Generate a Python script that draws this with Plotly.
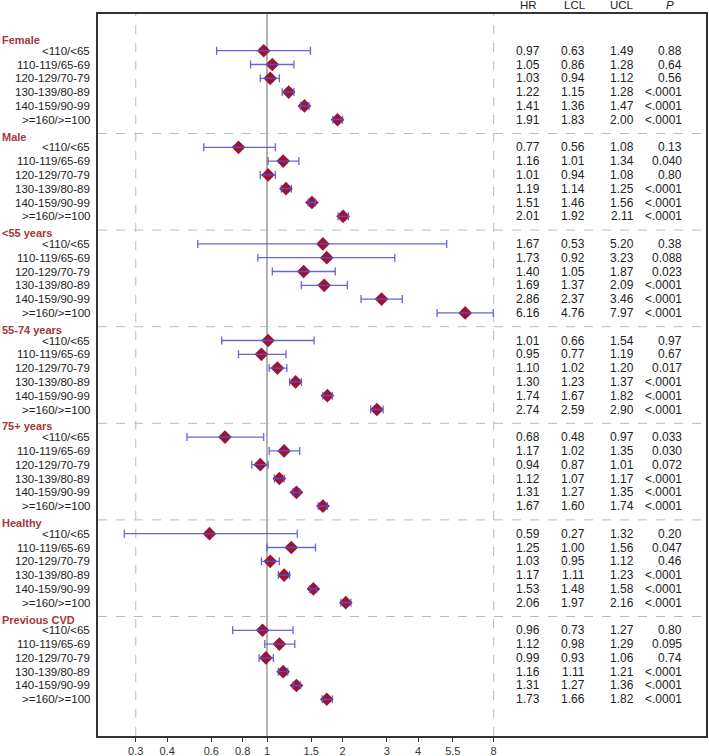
import math
import plotly.graph_objects as go

# ---------------- data ----------------
groups = ["Female", "Male", "&lt;55 years", "55-74 years", "75+ years", "Healthy", "Previous CVD"]
categories = ["&lt;110/&lt;65", "110-119/65-69", "120-129/70-79",
              "130-139/80-89", "140-159/90-99", "&gt;=160/&gt;=100"]

hr = [0.97, 1.05, 1.03, 1.22, 1.41, 1.91,
      0.77, 1.16, 1.01, 1.19, 1.51, 2.01,
      1.67, 1.73, 1.40, 1.69, 2.86, 6.16,
      1.01, 0.95, 1.10, 1.30, 1.74, 2.74,
      0.68, 1.17, 0.94, 1.12, 1.31, 1.67,
      0.59, 1.25, 1.03, 1.17, 1.53, 2.06,
      0.96, 1.12, 0.99, 1.16, 1.31, 1.73]
lcl = [0.63, 0.86, 0.94, 1.15, 1.36, 1.83,
       0.56, 1.01, 0.94, 1.14, 1.46, 1.92,
       0.53, 0.92, 1.05, 1.37, 2.37, 4.76,
       0.66, 0.77, 1.02, 1.23, 1.67, 2.59,
       0.48, 1.02, 0.87, 1.07, 1.27, 1.60,
       0.27, 1.00, 0.95, 1.11, 1.48, 1.97,
       0.73, 0.98, 0.93, 1.11, 1.27, 1.66]
ucl = [1.49, 1.28, 1.12, 1.28, 1.47, 2.00,
       1.08, 1.34, 1.08, 1.25, 1.56, 2.11,
       5.20, 3.23, 1.87, 2.09, 3.46, 7.97,
       1.54, 1.19, 1.20, 1.37, 1.82, 2.90,
       0.97, 1.35, 1.01, 1.17, 1.35, 1.74,
       1.32, 1.56, 1.12, 1.23, 1.58, 2.16,
       1.27, 1.29, 1.06, 1.21, 1.36, 1.82]
pval = ["0.88", "0.64", "0.56", "<.0001", "<.0001", "<.0001",
        "0.13", "0.040", "0.80", "<.0001", "<.0001", "<.0001",
        "0.38", "0.088", "0.023", "<.0001", "<.0001", "<.0001",
        "0.97", "0.67", "0.017", "<.0001", "<.0001", "<.0001",
        "0.033", "0.030", "0.072", "<.0001", "<.0001", "<.0001",
        "0.20", "0.047", "0.46", "<.0001", "<.0001", "<.0001",
        "0.80", "0.095", "0.74", "<.0001", "<.0001", "<.0001"]

tick_vals = [0.3, 0.4, 0.6, 0.8, 1, 1.5, 2, 3, 4, 5.5, 8]
tick_text = ["0.3", "0.4", "0.6", "0.8", "1", "1.5", "2", "3", "4", "5.5", "8"]
col_headers = ["HR", "LCL", "UCL", "<i>P</i>"]
ref_lines_dashed = [0.3, 8]
ref_line_null = 1

# ---------------- layout constants ----------------
W, H = 709, 756
ML, MR, MT, MB = 98, 3, 14, 20
PW = W - ML - MR
FONT = "Arial, 'Liberation Sans', Helvetica, sans-serif"
n_per = len(categories)
step = n_per + 1

ys, row_labels = [], []
for g in range(len(groups)):
    for i in range(n_per):
        ys.append(g * step + 1 + i)
        row_labels.append(categories[i])

def px2paper(px):
    return (px - ML) / PW

fig = go.Figure()

# diamonds
fig.add_trace(go.Scatter(
    x=hr, y=ys, mode="markers",
    marker=dict(symbol="diamond", size=10.5, color="#9b1438", line=dict(width=0)),
    hoverinfo="skip", showlegend=False))

# CI bars on top
fig.add_trace(go.Scatter(
    x=hr, y=ys, mode="markers",
    marker=dict(size=1, color="rgba(0,0,0,0)"),
    error_x=dict(type="data", symmetric=False,
                 array=[u - h for u, h in zip(ucl, hr)],
                 arrayminus=[h - l for h, l in zip(hr, lcl)],
                 color="rgba(85,85,210,0.9)", thickness=1.3, width=4),
    hoverinfo="skip", showlegend=False))

shapes = []
for v in ref_lines_dashed:
    shapes.append(dict(type="line", xref="x", yref="paper",
                       x0=v, x1=v, y0=0, y1=1,
                       line=dict(color="#bbbbbb", width=1, dash="dash"), layer="below"))
shapes.append(dict(type="line", xref="x", yref="paper", x0=ref_line_null, x1=ref_line_null,
                   y0=0, y1=1, line=dict(color="#999999", width=1.5), layer="below"))
for g in range(1, len(groups)):
    shapes.append(dict(type="line", xref="paper", yref="y", x0=0, x1=1,
                       y0=g * step, y1=g * step,
                       line=dict(color="#bbbbbb", width=1, dash="dash"), layer="below"))

annotations = []
for g, name in enumerate(groups):
    annotations.append(dict(text="<b>" + name + "</b>", xref="paper", yref="y",
                            x=px2paper(0), y=g * step + 0.22, xanchor="left", yanchor="middle",
                            showarrow=False, font=dict(family=FONT, size=11, color="#a3383a")))
col_right = [542, 587, 636, 684]
for k, (y, lab) in enumerate(zip(ys, row_labels)):
    annotations.append(dict(text=lab, xref="paper", yref="y", x=px2paper(92), y=y,
                            xanchor="right", yanchor="middle", showarrow=False,
                            font=dict(family=FONT, size=11.5, color="#222222")))
    vals = [f"{hr[k]:.2f}", f"{lcl[k]:.2f}", f"{ucl[k]:.2f}", pval[k].replace("<", "&lt;")]
    for c, v in enumerate(vals):
        annotations.append(dict(text=v, xref="paper", yref="y", x=px2paper(col_right[c]), y=y,
                                xanchor="right", yanchor="middle", showarrow=False,
                                font=dict(family=FONT, size=12, color="#222222")))
col_center = [528, 575, 622, 670]
for c, t in enumerate(col_headers):
    annotations.append(dict(text=t, xref="paper", yref="paper", x=px2paper(col_center[c]),
                            y=(H - MB - 5.5) / (H - MT - MB), xanchor="center", yanchor="middle",
                            showarrow=False, font=dict(family=FONT, size=11.5, color="#222222")))

n_rows = len(groups) * step
fig.update_layout(
    width=W, height=H, autosize=False,
    margin=dict(l=ML, r=MR, t=MT, b=MB),
    paper_bgcolor="white", plot_bgcolor="white",
    shapes=shapes, annotations=annotations,
    xaxis=dict(type="log", range=[-0.6733, 1.749], tickvals=tick_vals, ticktext=tick_text,
               ticks="outside", ticklen=4, tickcolor="#333333", tickwidth=1,
               automargin=False,
               showline=True, linecolor="#333333", linewidth=1.5, mirror=True,
               showgrid=False, zeroline=False,
               tickfont=dict(family=FONT, size=11, color="#333333")),
    yaxis=dict(range=[n_rows + 1.66, -1.66], showline=True, linecolor="#333333",
               linewidth=1.5, mirror=True, showticklabels=False, ticks="",
               showgrid=False, zeroline=False, automargin=False),
)

fig.write_html("out.html", config={"displayModeBar": False},
               post_script="document.body.style.margin='0px';document.body.style.padding='0px';")
